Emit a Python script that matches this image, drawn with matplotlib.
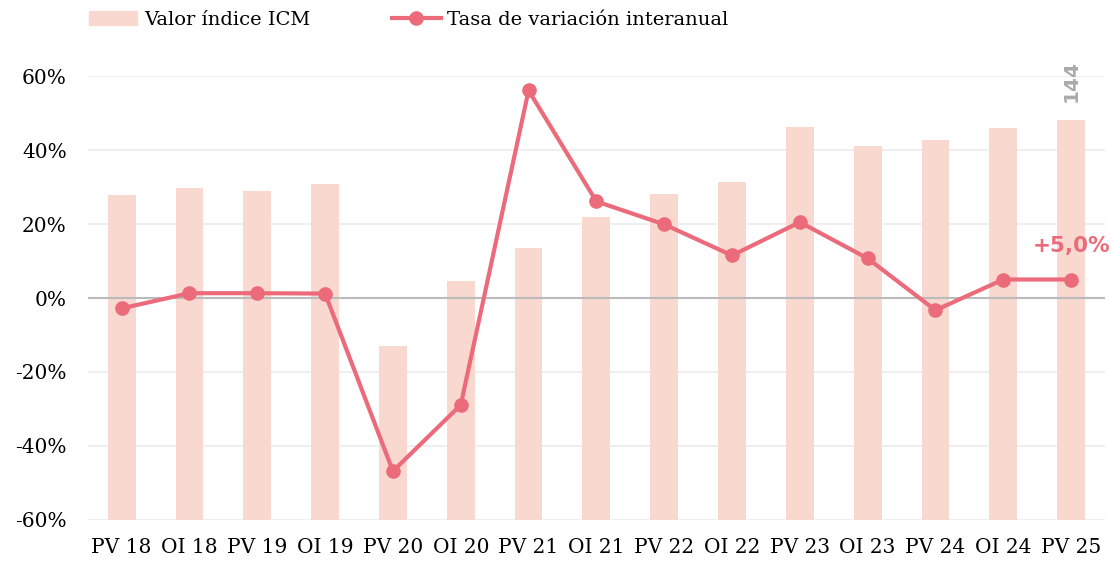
import numpy as np
import matplotlib.pyplot as plt
from matplotlib.lines import Line2D
from matplotlib.patches import Patch

# Data
periodos = ['PV 18', 'OI 18', 'PV 19', 'OI 19', 'PV 20', 'OI 20', 'PV 21', 'OI 21',
            'PV 22', 'OI 22', 'PV 23', 'OI 23', 'PV 24', 'OI 24', 'PV 25']
indice_icm = [117.1, 119.7, 118.6, 121.1, 62.8, 86.2, 98.0, 109.2,
              117.5, 121.8, 141.6, 134.8, 136.9, 141.4, 144.0]
variacion = [-2.8, 1.3, 1.3, 1.2, -46.8, -28.9, 56.1, 26.1,
             19.9, 11.5, 20.5, 10.7, -3.3, 5.0, 5.0]

bar_color = '#F8D8CF'
line_color = '#EC6B7B'
serif = ['DejaVu Serif']

fig = plt.figure(figsize=(11.11, 5.61), dpi=100)
ax = fig.add_axes([0.079, 0.0731, 0.9156, 0.7914])   # percent axis: ticks + grid
axb = ax.twinx()                                     # hidden index axis for bars
axl = ax.twinx()                                     # line on top

x = np.arange(len(periodos))

# grid at the back
ax.set_ylim(-60, 60)
ax.set_xlim(-0.5, len(periodos) - 0.5)
ax.set_yticks(np.arange(-60, 61, 20))
ax.set_yticklabels([f'{v}%' for v in range(-60, 61, 20)], fontsize=14.5, family=serif)
ax.set_xticks(x)
ax.set_xticklabels(periodos, fontsize=14.5, family=serif)
ax.tick_params(axis='both', length=0)
ax.tick_params(axis='x', pad=13)
ax.tick_params(axis='y', pad=15)
for s in ax.spines.values():
    s.set_visible(False)
ax.grid(axis='y', color='#EFEFEF', lw=1.5)
ax.set_axisbelow(True)

# bars
axb.bar(x, indice_icm, width=0.41, color=bar_color)
axb.set_ylim(0, 160)
axb.axis('off')
axb.annotate(f'{indice_icm[-1]:.0f}', (x[-1], indice_icm[-1]), xytext=(0, 13),
             textcoords='offset points', rotation=90, ha='center', va='bottom',
             color='#AAAAAA', fontsize=14.5, fontweight='bold', annotation_clip=False)

# zero line + variation line
axl.set_ylim(-60, 60)
axl.axis('off')
axl.axhline(0, color='#BBBBBB', lw=1.5, zorder=1)
axl.plot(x, variacion, color=line_color, lw=3, marker='o', ms=9.5, zorder=3)
axl.annotate('+5,0%', (x[-1], variacion[-1]), xytext=(0, 17),
             textcoords='offset points', ha='center', va='bottom',
             color=line_color, fontsize=15.5, fontweight='bold', annotation_clip=False)

handles = [Patch(color=bar_color),
           Line2D([0], [0], color=line_color, lw=3, marker='o', ms=9.5)]
fig.legend(handles, ['Valor índice ICM', 'Tasa de variación interanual'],
           loc='upper left', bbox_to_anchor=(0.064, 1.012), ncol=2, frameon=False,
           prop={'family': serif, 'size': 14}, handlelength=2.5, handletextpad=0.35,
           columnspacing=4.2)

fig.savefig('out.png', dpi=100)
